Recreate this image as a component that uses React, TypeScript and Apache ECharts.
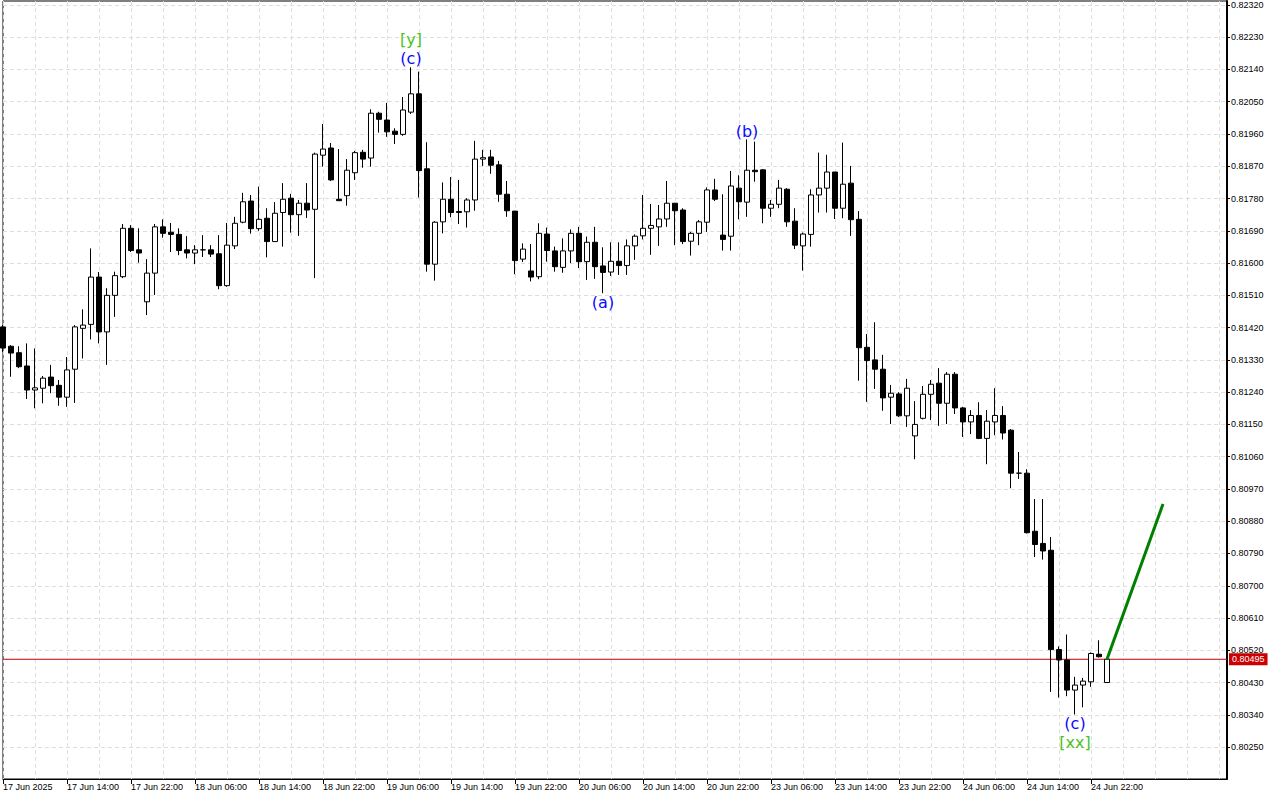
import React, { useEffect, useRef } from 'react';
import * as echarts from 'echarts';

// x-axis tick labels, one every 8 hourly bars starting at bar 0
const tickLabels = [
  '17 Jun 2025', '17 Jun 14:00', '17 Jun 22:00', '18 Jun 06:00', '18 Jun 14:00', '18 Jun 22:00',
  '19 Jun 06:00', '19 Jun 14:00', '19 Jun 22:00', '20 Jun 06:00', '20 Jun 14:00', '20 Jun 22:00',
  '23 Jun 06:00', '23 Jun 14:00', '23 Jun 22:00', '24 Jun 06:00', '24 Jun 14:00', '24 Jun 22:00',
];

const yTicks = [
  0.80250, 0.80340, 0.80430, 0.80520, 0.80610, 0.80700, 0.80790, 0.80880, 0.80970, 0.81060,
  0.81150, 0.81240, 0.81330, 0.81420, 0.81510, 0.81600, 0.81690, 0.81780, 0.81870, 0.81960,
  0.82050, 0.82140, 0.82230, 0.82320,
];

const opens = [
  0.81422, 0.81368, 0.81350, 0.81313, 0.81246, 0.81251, 0.81282, 0.81259, 0.81226, 0.81304,
  0.81418, 0.81429, 0.81561, 0.81408, 0.81510, 0.81562, 0.81697, 0.81637, 0.81492, 0.81572,
  0.81701, 0.81686, 0.81680, 0.81637, 0.81628, 0.81637, 0.81637, 0.81626, 0.81537, 0.81648,
  0.81714, 0.81773, 0.81696, 0.81725, 0.81660, 0.81741, 0.81781, 0.81735, 0.81767, 0.81750,
  0.81901, 0.81921, 0.81778, 0.81788, 0.81852, 0.81909, 0.81893, 0.82018, 0.81999, 0.81968,
  0.81959, 0.82021, 0.82072, 0.81863, 0.81597, 0.81715, 0.81778, 0.81744, 0.81743, 0.81776,
  0.81890, 0.81896, 0.81874, 0.81792, 0.81745, 0.81611, 0.81578, 0.81562, 0.81681, 0.81634,
  0.81588, 0.81634, 0.81683, 0.81604, 0.81658, 0.81592, 0.81575, 0.81605, 0.81593, 0.81648,
  0.81676, 0.81697, 0.81701, 0.81723, 0.81767, 0.81748, 0.81661, 0.81683, 0.81714, 0.81804,
  0.81678, 0.81675, 0.81809, 0.81770, 0.81859, 0.81860, 0.81753, 0.81764, 0.81806, 0.81717,
  0.81648, 0.81680, 0.81790, 0.81809, 0.81854, 0.81753, 0.81823, 0.81722, 0.81365, 0.81330,
  0.81304, 0.81226, 0.81235, 0.81174, 0.81118, 0.81167, 0.81234, 0.81265, 0.81209, 0.81290,
  0.81196, 0.81157, 0.81175, 0.81111, 0.81157, 0.81175, 0.81134, 0.81014, 0.81014, 0.80852,
  0.80818, 0.80799, 0.80522, 0.80493, 0.80409, 0.80423, 0.80432, 0.80509, 0.80430,
];

const highs = [
  0.81427, 0.81371, 0.81368, 0.81376, 0.81362, 0.81285, 0.81316, 0.81274, 0.81338, 0.81427,
  0.81471, 0.81641, 0.81575, 0.81530, 0.81576, 0.81709, 0.81706, 0.81697, 0.81611, 0.81709,
  0.81722, 0.81712, 0.81697, 0.81675, 0.81650, 0.81678, 0.81650, 0.81678, 0.81712, 0.81729,
  0.81796, 0.81790, 0.81813, 0.81753, 0.81770, 0.81823, 0.81793, 0.81776, 0.81823, 0.81908,
  0.81988, 0.81935, 0.81918, 0.81890, 0.81913, 0.81916, 0.82029, 0.82022, 0.82047, 0.81976,
  0.82063, 0.82146, 0.82134, 0.81937, 0.81717, 0.81825, 0.81840, 0.81832, 0.81781, 0.81941,
  0.81916, 0.81916, 0.81885, 0.81829, 0.81745, 0.81655, 0.81653, 0.81711, 0.81699, 0.81646,
  0.81669, 0.81694, 0.81701, 0.81674, 0.81701, 0.81644, 0.81658, 0.81658, 0.81666, 0.81680,
  0.81790, 0.81765, 0.81762, 0.81829, 0.81767, 0.81753, 0.81687, 0.81720, 0.81811, 0.81835,
  0.81792, 0.81857, 0.81845, 0.81945, 0.81939, 0.81862, 0.81776, 0.81832, 0.81809, 0.81753,
  0.81685, 0.81806, 0.81908, 0.81902, 0.81854, 0.81936, 0.81871, 0.81745, 0.81402, 0.81435,
  0.81344, 0.81260, 0.81240, 0.81277, 0.81215, 0.81257, 0.81274, 0.81307, 0.81296, 0.81296,
  0.81199, 0.81190, 0.81212, 0.81190, 0.81251, 0.81201, 0.81137, 0.81073, 0.81025, 0.80942,
  0.80942, 0.80836, 0.80531, 0.80564, 0.80446, 0.80443, 0.80514, 0.80548, 0.80495,
];

const lows = [
  0.81352, 0.81283, 0.81307, 0.81221, 0.81195, 0.81209, 0.81237, 0.81202, 0.81199, 0.81210,
  0.81334, 0.81387, 0.81376, 0.81316, 0.81450, 0.81558, 0.81631, 0.81601, 0.81455, 0.81511,
  0.81671, 0.81631, 0.81622, 0.81613, 0.81597, 0.81617, 0.81617, 0.81527, 0.81534, 0.81639,
  0.81711, 0.81682, 0.81690, 0.81616, 0.81660, 0.81646, 0.81685, 0.81676, 0.81726, 0.81558,
  0.81869, 0.81829, 0.81774, 0.81760, 0.81832, 0.81866, 0.81869, 0.81964, 0.81952, 0.81932,
  0.81955, 0.82016, 0.81783, 0.81576, 0.81551, 0.81683, 0.81728, 0.81709, 0.81699, 0.81746,
  0.81871, 0.81849, 0.81771, 0.81729, 0.81569, 0.81603, 0.81549, 0.81555, 0.81604, 0.81576,
  0.81573, 0.81600, 0.81586, 0.81553, 0.81556, 0.81516, 0.81564, 0.81567, 0.81567, 0.81609,
  0.81666, 0.81623, 0.81648, 0.81701, 0.81650, 0.81653, 0.81621, 0.81650, 0.81687, 0.81773,
  0.81635, 0.81635, 0.81722, 0.81729, 0.81827, 0.81711, 0.81729, 0.81753, 0.81701, 0.81639,
  0.81579, 0.81646, 0.81741, 0.81741, 0.81723, 0.81725, 0.81676, 0.81272, 0.81213, 0.81249,
  0.81188, 0.81151, 0.81171, 0.81143, 0.81053, 0.81164, 0.81162, 0.81146, 0.81151, 0.81179,
  0.81115, 0.81123, 0.81109, 0.81039, 0.81120, 0.81108, 0.80972, 0.80998, 0.80846, 0.80780,
  0.80773, 0.80404, 0.80388, 0.80392, 0.80341, 0.80361, 0.80418, 0.80500, 0.80430,
];

const closes = [
  0.81363, 0.81349, 0.81311, 0.81246, 0.81252, 0.81279, 0.81258, 0.81226, 0.81302, 0.81422,
  0.81427, 0.81561, 0.81408, 0.81510, 0.81565, 0.81697, 0.81635, 0.81628, 0.81572, 0.81701,
  0.81683, 0.81680, 0.81635, 0.81628, 0.81637, 0.81637, 0.81625, 0.81537, 0.81650, 0.81711,
  0.81771, 0.81696, 0.81722, 0.81660, 0.81739, 0.81778, 0.81735, 0.81767, 0.81748, 0.81904,
  0.81918, 0.81832, 0.81774, 0.81859, 0.81908, 0.81890, 0.82018, 0.82001, 0.81966, 0.81959,
  0.82027, 0.82072, 0.81858, 0.81597, 0.81714, 0.81778, 0.81741, 0.81741, 0.81776, 0.81890,
  0.81894, 0.81873, 0.81792, 0.81746, 0.81607, 0.81639, 0.81561, 0.81683, 0.81635, 0.81590,
  0.81634, 0.81683, 0.81604, 0.81658, 0.81590, 0.81574, 0.81605, 0.81593, 0.81648, 0.81675,
  0.81697, 0.81705, 0.81723, 0.81767, 0.81746, 0.81660, 0.81683, 0.81715, 0.81804, 0.81778,
  0.81666, 0.81815, 0.81771, 0.81859, 0.81855, 0.81753, 0.81764, 0.81809, 0.81715, 0.81650,
  0.81681, 0.81790, 0.81809, 0.81854, 0.81753, 0.81820, 0.81721, 0.81364, 0.81328, 0.81304,
  0.81224, 0.81237, 0.81174, 0.81251, 0.81150, 0.81234, 0.81262, 0.81209, 0.81290, 0.81196,
  0.81157, 0.81175, 0.81111, 0.81159, 0.81175, 0.81126, 0.81014, 0.81014, 0.80848, 0.80815,
  0.80797, 0.80522, 0.80493, 0.80409, 0.80423, 0.80434, 0.80511, 0.80502, 0.80495,
];

const currentPrice = 0.80495;

// projected move (bar index, price)
const forecastIdx = [138, 145];
const forecastPrice = [0.80495, 0.80928];

// wave labels
const waveText = ['[y]', '(c)', '(a)', '(b)', '(c)', '[xx]'];
const waveIdx = [51, 51, 75, 93, 134, 134];
const wavePrice = [0.82225, 0.82170, 0.81490, 0.81966, 0.80317, 0.80262];
const waveColor = ['#4cc21e', '#0a0aff', '#0a0aff', '#0a0aff', '#0a0aff', '#4cc21e'];

const totalSlots = 154; // hourly slots incl. empty space on the right
const yMin = 0.80161;
const yMax = 0.82331;

export default function App() {
  const ref = useRef<HTMLDivElement>(null);

  useEffect(() => {
    const chart = echarts.init(ref.current as HTMLDivElement, null, { renderer: 'svg' });
    const cats = Array.from({ length: totalSlots }, (_, i) => String(i));
    const candleData = opens.map((o, i) => [o, closes[i], lows[i], highs[i]]);
    const isLabelIdx = (i: number) => i % 8 === 0 && i / 8 < tickLabels.length;
    const gridLine = { show: true, lineStyle: { color: '#dedede', type: [4, 3], width: 1 } };
    const axisFont = { fontSize: 9, fontFamily: 'Liberation Sans, Arial, sans-serif', color: '#000' };

    chart.setOption({
      animation: false,
      backgroundColor: '#ffffff',
      grid: {
        left: 3, right: 53, top: 1, bottom: 21,
        show: true, borderColor: '#000', borderWidth: 1, backgroundColor: 'transparent',
      },
      xAxis: {
        type: 'category',
        data: cats,
        boundaryGap: false,
        axisLine: { show: true, lineStyle: { color: '#000', width: 1 } },
        axisTick: {
          show: true, interval: (i: number) => isLabelIdx(i), length: 5, lineStyle: { color: '#000' },
        },
        axisLabel: {
          ...axisFont,
          interval: (i: number) => isLabelIdx(i),
          formatter: (_v: string, i: number) => tickLabels[i / 8] ?? '',
          align: 'left',
          margin: 3,
        },
        splitLine: { ...gridLine, interval: (i: number) => i % 4 === 0 },
      },
      yAxis: {
        type: 'value',
        position: 'right',
        min: yMin,
        max: yMax,
        axisLine: { show: true, lineStyle: { color: '#000', width: 2 } },
        axisTick: { show: true, customValues: yTicks, length: 3, lineStyle: { color: '#000' } },
        axisLabel: {
          ...axisFont,
          customValues: yTicks,
          formatter: (v: number) => v.toFixed(5),
          margin: 4,
        },
        splitLine: gridLine,
      },
      series: [
        {
          type: 'line',
          data: [[0, currentPrice], [totalSlots - 1, currentPrice]],
          symbol: 'none',
          silent: true,
          lineStyle: { color: '#c00000', width: 1 },
          z: 1,
          endLabel: {
            show: true,
            formatter: currentPrice.toFixed(5),
            backgroundColor: '#cc0000',
            color: '#ffffff',
            fontSize: 9,
            fontFamily: 'Liberation Sans, Arial, sans-serif',
            padding: [2, 3, 1, 3],
            distance: 2,
          },
        },
        {
          type: 'candlestick',
          data: candleData,
          barWidth: 5,
          z: 2,
          itemStyle: {
            color: '#ffffff',
            color0: '#000000',
            borderColor: '#000000',
            borderColor0: '#000000',
            borderColorDoji: '#000000',
            borderWidth: 1,
          },
        },
        {
          type: 'line',
          data: forecastIdx.map((x, i) => [x, forecastPrice[i]]),
          symbol: 'none',
          lineStyle: { color: '#008000', width: 3 },
          z: 5,
        },
        {
          type: 'scatter',
          symbolSize: 1,
          itemStyle: { color: 'rgba(255,255,255,0)', opacity: 1 },
          z: 6,
          data: waveIdx.map((x, i) => ({
            value: [x, wavePrice[i]],
            label: {
              show: true,
              position: 'inside',
              formatter: waveText[i],
              color: waveColor[i],
              opacity: 1,
              textBorderWidth: 0,
              fontSize: 16,
              fontFamily: 'DejaVu Sans, sans-serif',
            },
          })),
        },
      ],
    });

    return () => chart.dispose();
  }, []);

  return (
    <div
      ref={ref}
      style={{ position: 'fixed', left: 0, top: 0, width: 1280, height: 800, background: '#fff' }}
    />
  );
}
